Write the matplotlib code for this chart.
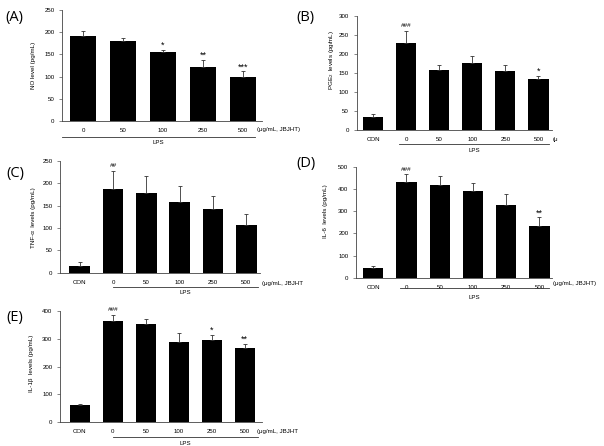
import numpy as np
import matplotlib.pyplot as plt
import matplotlib.transforms as mtransforms

plt.rcParams['font.family'] = ['Liberation Sans', 'DejaVu Sans']
plt.rcParams['mathtext.default'] = 'regular'

# data
lab_a = ['0', '50', '100', '250', '500']
lab_6 = ['CON', '0', '50', '100', '250', '500']

no_val = [191, 180, 155, 122, 100]
no_err = [12, 6, 6, 15, 12]
no_sig = ['', '', '*', '**', '***']

pge_val = [35, 230, 159, 176, 155, 134]
pge_err = [8, 31, 12, 18, 16, 9]
pge_sig = ['', '###', '', '', '', '*']

tnf_val = [15, 187, 178, 159, 142, 106]
tnf_err = [10, 41, 39, 34, 30, 25]
tnf_sig = ['', '##', '', '', '', '']

il6_val = [42, 432, 417, 390, 327, 233]
il6_err = [11, 33, 41, 35, 48, 39]
il6_sig = ['', '###', '', '', '', '**']

il1_val = [62, 364, 354, 289, 295, 267]
il1_err = [5, 22, 17, 31, 19, 14]
il1_sig = ['', '###', '', '', '*', '**']

W, H = 604, 446
fig = plt.figure(figsize=(W / 100, H / 100), dpi=100)


def box(l, r, t, b):
    return [l / W, 1 - b / H, (r - l) / W, (b - t) / H]


def ftext(x, y, s, **kw):
    fig.text(x / W, 1 - y / H, s, **kw)


def panel(rect, labels, vals, errs, sigs, ymax, ystep, xlim, width,
          lps, line_dy, lps_dy, unit, unit_xy, ylab, ylab_xy, tag, tag_xy):
    ax = fig.add_axes(box(*rect))
    x = np.arange(len(vals))
    ax.bar(x, vals, width=width, color='black', zorder=2)
    ax.errorbar(x, vals, yerr=[np.zeros(len(vals)), errs], fmt='none',
                ecolor='#333333', elinewidth=0.6, capsize=1.6, capthick=0.6)
    for xi, v, e, s in zip(x, vals, errs, sigs):
        if s:
            if s[0] == '*':
                ax.annotate(s, (xi, v + e), xytext=(0, 0), textcoords='offset points',
                            ha='center', va='bottom', fontsize=6.5)
            else:
                ax.annotate(s, (xi, v + e), xytext=(0, 1.8), textcoords='offset points',
                            ha='center', va='bottom', fontsize=4.6, style='italic')
    ax.set_xlim(*xlim)
    ax.set_ylim(0, ymax)
    ax.set_yticks(np.arange(0, ymax + 1, ystep))
    ax.set_xticks(x)
    ax.set_xticklabels(labels)
    ax.tick_params(axis='x', length=0, pad=5, labelsize=4.4)
    ax.tick_params(axis='y', length=2, width=0.5, pad=3.5, labelsize=4.4, color='#555555')
    for sp in ['top', 'right']:
        ax.spines[sp].set_visible(False)
    for sp in ['left', 'bottom']:
        ax.spines[sp].set_linewidth(0.6)
        ax.spines[sp].set_color('#444444')
    trans = mtransforms.blended_transform_factory(ax.transData, ax.transAxes)
    off = mtransforms.ScaledTranslation(0, -line_dy / 100, fig.dpi_scale_trans)
    ax.plot(lps, [0, 0], color='#333333', lw=0.6, transform=trans + off, clip_on=False)
    off2 = mtransforms.ScaledTranslation(0, -lps_dy / 100, fig.dpi_scale_trans)
    ax.text(sum(lps) / 2, 0, 'LPS', transform=trans + off2, ha='center', va='center',
            fontsize=4.4)
    ftext(unit_xy[0], unit_xy[1], unit, ha='left', va='center', fontsize=4.4)
    ftext(ylab_xy[0], ylab_xy[1], ylab, rotation=90, ha='center', va='center', fontsize=4.5)
    ftext(tag_xy[0], tag_xy[1], tag, ha='left', va='center', fontsize=10.5,
          family=['Open Sans', 'DejaVu Sans'])
    return ax


panel((62, 262, 10, 121), lab_a, no_val, no_err, no_sig, 250, 50, (-0.525, 4.475), 0.65,
      (-0.525, 4.3), 16, 22, '(μg/mL, JBJHT)', (257, 130), 'NO level (pg/mL)', (33, 65),
      '(A)', (5, 17))
panel((356.7, 552, 16, 130.3), lab_6, pge_val, pge_err, pge_sig, 300, 50, (-0.5, 5.41), 0.61,
      (0.78, 5.33), 13.7, 19.7, '(μ', (553, 139), 'PGE$_2$  levels (pg/mL)', (331, 60),
      '(B)', (296, 17))
panel((60, 260, 161, 272.7), lab_6, tnf_val, tnf_err, tnf_sig, 250, 50, (-0.59, 5.41), 0.62,
      (1.0, 5.35), 14.3, 20.3, '(μg/mL, JBJHT', (262, 283), 'TNF-α  levels (pg/mL)', (34, 218),
      '(C)', (6, 173))
panel((356, 552, 166.7, 277.7), lab_6, il6_val, il6_err, il6_sig, 500, 100, (-0.52, 5.38), 0.61,
      (0.8, 5.29), 10.3, 20, '(μg/mL, JBJHT)', (553, 284), 'IL-6  levels (pg/mL)', (326, 211),
      '(D)', (296, 163))
panel((60, 262, 311, 422.3), lab_6, il1_val, il1_err, il1_sig, 400, 100, (-0.6, 5.52), 0.62,
      (1.0, 5.4), 14.7, 20.7, '(μg/mL, JBJHT', (257, 432), 'IL-1β  levels (pg/mL)', (31, 363),
      '(E)', (6, 317))

fig.savefig('out.png', dpi=100)
